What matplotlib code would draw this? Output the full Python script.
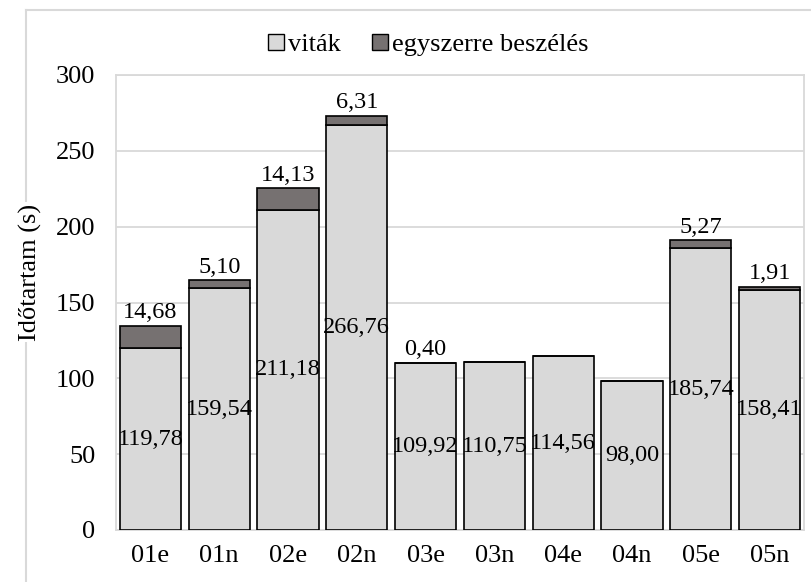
import matplotlib.pyplot as plt
from matplotlib.patches import Patch
from matplotlib.lines import Line2D

plt.rcParams['font.family'] = ['Liberation Serif', 'DejaVu Serif']

categories = ['01e', '01n', '02e', '02n', '03e', '03n', '04e', '04n', '05e', '05n']
vitak = [119.78, 159.54, 211.18, 266.76, 109.92, 110.75, 114.56, 98.00, 185.74, 158.41]
egyszerre = [14.68, 5.10, 14.13, 6.31, 0.40, 0, 0, 0, 5.27, 1.91]

light = '#d9d9d9'
dark = '#767171'
frame = '#d9d9d9'
fs = 19
fs_lab = 17.5


def fmt(v):
    return f"{v:.2f}".replace('.', ',')


fig = plt.figure(figsize=(8.11, 5.82), dpi=100)
ax = fig.add_axes([116/811, 52/582, 688/811, 455/582])

x = list(range(len(categories)))
b1 = ax.bar(x, vitak, width=0.89, color=light, edgecolor='black', linewidth=1.2, zorder=3)
b2 = ax.bar(x, egyszerre, width=0.89, bottom=vitak, color=dark, edgecolor='black',
            linewidth=1.2, zorder=3)

for i, v in enumerate(vitak):
    ax.text(i, v / 2, fmt(v), ha='center', va='center', fontsize=fs_lab, zorder=4)
for i, v in enumerate(egyszerre):
    if v > 0:
        ax.annotate(fmt(v), (i, vitak[i] + v), xytext=(0, 2), textcoords='offset points',
                    ha='center', va='bottom', fontsize=fs_lab, zorder=4)

ax.set_xlim(-0.5, len(categories) - 0.5)
ax.set_ylim(0, 300)
ax.set_yticks(range(0, 301, 50))
ax.set_xticks(x)
ax.set_xticklabels(categories)
ax.tick_params(axis='both', length=0, labelsize=fs)
ax.tick_params(axis='y', pad=15)
ax.tick_params(axis='x', pad=11)
ax.grid(axis='y', color=frame, linewidth=1.3, zorder=0)
for s in ax.spines.values():
    s.set_color(frame)
    s.set_linewidth(1.3)

handles = [Patch(facecolor=light, edgecolor='black', linewidth=1.0, label='viták'),
           Patch(facecolor=dark, edgecolor='black', linewidth=1.0, label='egyszerre beszélés')]
fig.legend(handles=handles, loc='center', bbox_to_anchor=(428/811, 1 - 45/582), ncol=2,
           frameon=False, fontsize=fs, handlelength=0.6, handleheight=0.6,
           handletextpad=0.15, columnspacing=1.2)

# chart area border (cropped at right and bottom in the reference)
fig.add_artist(Line2D([26/811, 1.0], [1 - 10/582, 1 - 10/582], color=frame, linewidth=1.5,
                      transform=fig.transFigure))
fig.add_artist(Line2D([26/811, 26/811], [0, 1 - 10/582], color=frame, linewidth=1.5,
                      transform=fig.transFigure))

fig.text(30/811, 1 - 272/582, 'Időtartam (s)', rotation=90, ha='center', va='center',
         fontsize=fs, bbox=dict(facecolor='white', edgecolor='none', pad=1))

fig.savefig('out.png', dpi=100)
